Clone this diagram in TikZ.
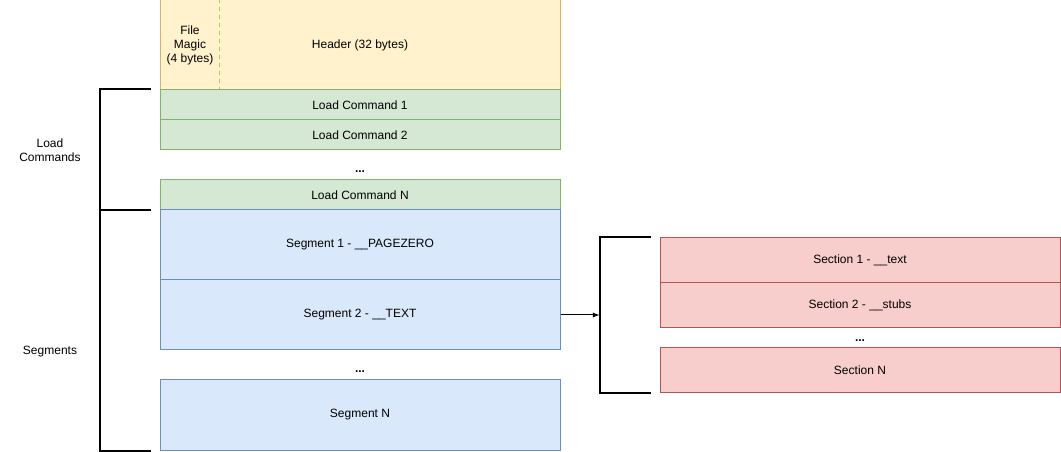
\documentclass[tikz,border=0pt]{standalone}
\usepackage{fontspec}
\setmainfont{Liberation Sans}
\usetikzlibrary{positioning}
\usetikzlibrary{calc}
\definecolor{headfill}{HTML}{FFF2CC}
\definecolor{headdraw}{HTML}{D6B656}
\definecolor{cmdfill}{HTML}{D5E8D4}
\definecolor{cmddraw}{HTML}{82B366}
\definecolor{segfill}{HTML}{DAE8FC}
\definecolor{segdraw}{HTML}{6C8EBF}
\definecolor{secfill}{HTML}{F8CECC}
\definecolor{secdraw}{HTML}{B85450}

\begin{document}
\begin{tikzpicture}[x=0.75pt, y=-0.75pt, font=\fontsize{9}{10.5}\selectfont]

        % Setup the styles for the boxes
        \tikzset{box style/.style={rectangle,
                                   minimum width=300pt,
                                   line width=0.75pt,
                                   inner sep=0pt},
                 head style/.style={box style, minimum height=67.5pt,
                                    draw=headdraw, fill=headfill},
                 cmd style/.style={box style, minimum height=22.5pt,
                                   draw=cmddraw, fill=cmdfill},
                 seg style/.style={box style, minimum height=52.5pt,
                                   draw=segdraw, fill=segfill},
                 sec style/.style={box style, minimum height=33.75pt,
                                   draw=secdraw, fill=secfill},
                 bracket style/.style={line width=1.5pt, line cap=rect}}

        \useasboundingbox (0,0) rectangle (1061,452);

        % Draw the header
        \node[head style] at (360, 45)  (head)  {Header (32 bytes)};
        \node[align=center] at (190, 45) (magic) {File\\Magic\\(4 bytes)};
        \draw[draw=headdraw, dashed, line width=0.5pt]
            ([xshift=45pt]head.north west) -- ([xshift=45pt]head.south west);

        % Draw the load commands
        \node[cmd style] at (360, 105) (lc1) {Load Command 1};
        \node[cmd style] at (360, 135) (lc2) {Load Command 2};
        \node at (360, 172) (lcdots) {\textbf{...}};
        \node[cmd style] at (360, 195) (lcn) {Load Command N};

        % Draw the segments
        \node[seg style] at (360, 245) (seg1) {Segment 1 - \_\_PAGEZERO};
        \node[seg style] at (360, 315) (seg2) {Segment 2 - \_\_TEXT};
        \node at (360, 372) (segdots) {\textbf{...}};
        \node[seg style] at (360, 415) (segn) {Segment N};

        % Draw the sections
        \node[sec style] at (860, 260.5) (sec1) {Section 1 - \_\_text};
        \node[sec style] at (860, 305.5) (sec2) {Section 2 - \_\_stubs};
        \node at (860, 341) (secdots) {\textbf{...}};
        \node[sec style] at (860, 370.5) (secn) {Section N};

        % Draw the brackets
        \draw[bracket style]
            ([xshift=-7.5pt]lc1.north west) -- ([xshift=-45pt]lc1.north west)
            -- ([xshift=-45pt]segn.south west) -- ([xshift=-7.5pt]segn.south west);
        \draw[bracket style]
            ([xshift=-45pt]lcn.south west) -- ([xshift=-7.5pt]lcn.south west);
        \draw[bracket style]
            ([xshift=-7.5pt]sec1.north west) -- ([xshift=-45pt]sec1.north west)
            coordinate (brk)
            -- ([xshift=-45pt]secn.south west) -- ([xshift=-7.5pt]secn.south west);

        \node[align=center] at (50, 150) (lclabel) {Load\\Commands};
        \node at (50, 352) (seglabel) {Segments};

        % Connect segment to its sections
        \draw[->, >=latex, line width=0.75pt] (seg2.east) -- (seg2.east -| brk);

\end{tikzpicture}
\end{document}
